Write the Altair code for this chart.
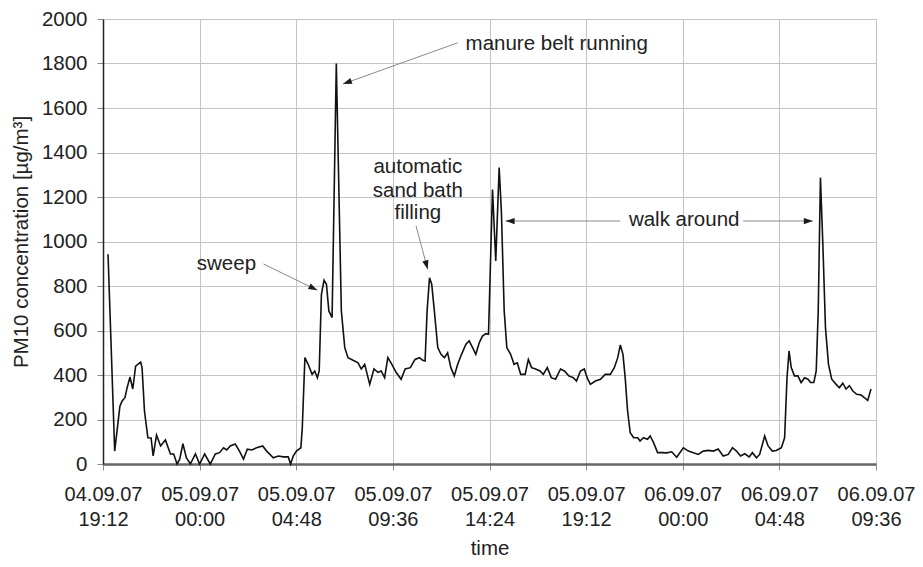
import json
import altair as alt
import pandas as pd

# --- measured series: hours since 04.09.07 19:12, PM10 in µg/m³ ---
hours = [0.25, 0.58, 0.84, 0.95, 1.09, 1.20, 1.34, 1.48, 1.62, 1.87,
         1.94, 2.06, 2.23, 2.39, 2.49, 2.66, 2.86, 3.10, 3.35, 3.51,
         3.68, 3.81, 3.97, 4.14, 4.34, 4.59, 4.80, 5.05, 5.33, 5.58,
         5.79, 5.99, 6.15, 6.32, 6.57, 6.78, 6.98, 7.17, 7.39, 7.63,
         7.93, 8.13, 8.46, 8.71, 8.96, 9.20, 9.32, 9.45, 9.61, 9.83,
         9.90, 10.03, 10.19, 10.39, 10.52, 10.65, 10.74, 10.85, 10.98, 11.10,
         11.22, 11.38, 11.59, 11.84, 12.01, 12.17, 12.42, 12.67, 12.83, 13.00,
         13.25, 13.46, 13.66, 13.82, 13.99, 14.15, 14.35, 14.56, 14.81, 15.01,
         15.27, 15.50, 15.72, 15.88, 16.00, 16.10, 16.22, 16.33, 16.46, 16.63,
         16.79, 16.96, 17.12, 17.28, 17.45, 17.62, 17.81, 18.03, 18.19, 18.36,
         18.52, 18.69, 18.85, 19.02, 19.15, 19.35, 19.51, 19.68, 19.79, 19.93,
         20.06, 20.25, 20.42, 20.58, 20.75, 20.97, 21.13, 21.29, 21.49, 21.71,
         21.87, 22.07, 22.27, 22.48, 22.73, 22.92, 23.14, 23.36, 23.52, 23.72,
         23.91, 24.05, 24.21, 24.46, 24.71, 24.95, 25.20, 25.40, 25.57, 25.70,
         25.83, 25.94, 26.06, 26.19, 26.36, 26.56, 26.68, 26.85, 27.05, 27.18,
         27.35, 27.55, 27.76, 28.01, 28.25, 28.50, 28.83, 29.08, 29.33, 29.57,
         29.82, 30.07, 30.32, 30.56, 30.81, 31.06, 31.27, 31.47, 31.67, 31.88,
         32.10, 32.26, 32.46, 32.62, 32.87, 33.04, 33.25, 33.45, 33.70, 33.86,
         33.98, 34.08, 34.19, 34.35, 34.52, 34.68, 34.85, 35.02, 35.15, 35.31,
         35.43, 35.53, 35.64, 35.76, 35.89, 36.04, 36.20, 36.42, 36.58, 36.75,
         36.91, 37.08, 37.25, 37.44, 37.66, 37.82, 37.99, 38.15]
pm10 = [943, 58, 260, 283, 298, 343, 391, 337, 440, 458,
        433, 238, 118, 117, 36, 130, 81, 108, 45, 45,
        0, 22, 91, 28, 0, 45, 0, 45, 0, 45,
        51, 73, 63, 81, 90, 58, 22, 67, 63, 73,
        81, 58, 28, 36, 32, 32, 0, 36, 58, 73,
        163, 478, 448, 403, 418, 388, 418, 763, 826, 808,
        688, 658, 1800, 688, 523, 478, 466, 455, 427, 448,
        358, 427, 412, 418, 388, 478, 448, 412, 381, 427,
        433, 470, 478, 466, 463, 688, 837, 808, 688, 523,
        493, 478, 500, 433, 396, 448, 493, 538, 553, 523,
        493, 545, 575, 586, 583, 1234, 912, 1332, 1137, 688,
        523, 493, 448, 455, 403, 403, 470, 433, 427, 418,
        403, 433, 388, 381, 427, 418, 396, 388, 373, 418,
        427, 388, 358, 373, 381, 403, 403, 433, 478, 535,
        493, 388, 238, 141, 118, 118, 103, 118, 111, 126,
        96, 51, 51, 50, 55, 30, 73, 58, 51, 43,
        58, 61, 58, 67, 36, 43, 73, 58, 36, 46,
        32, 51, 28, 43, 126, 81, 58, 61, 73, 118,
        388, 508, 433, 396, 396, 366, 388, 381, 366, 366,
        418, 688, 1287, 987, 613, 448, 381, 358, 343, 363,
        337, 352, 328, 313, 310, 298, 286, 337]

# --- axes ---
tick_hours = [0, 4.8, 9.6, 14.4, 19.2, 24.0, 28.8, 33.6, 38.4]
tick_labels = ["04.09.07 19:12", "05.09.07 00:00", "05.09.07 04:48",
               "05.09.07 09:36", "05.09.07 14:24", "05.09.07 19:12",
               "06.09.07 00:00", "06.09.07 04:48", "06.09.07 09:36"]
y_ticks = [0, 200, 400, 600, 800, 1000, 1200, 1400, 1600, 1800, 2000]

# --- annotations (data units) ---
ann_text = ["manure belt running", "automatic", "sand bath", "filling",
            "sweep", "walk around"]
ann_h = [22.54, 15.64, 15.64, 15.64, 6.13, 28.87]
ann_v = [1859, 1306, 1202, 1099, 870, 1070]

arrow_h = [17.62, 15.55, 7.97, 25.70, 31.80]      # tails
arrow_v = [1893, 1070, 899, 1092, 1092]
arrow_h2 = [11.92, 16.13, 10.65, 20.00, 35.26]    # tips
arrow_v2 = [1708, 875, 781, 1092, 1092]
arrow_angle = [250, 165, 116, 270, 90]

FONT = "Liberation Sans"
FS = 20.5
TXT = "#222222"

df = pd.DataFrame({"h": hours, "v": pm10})
ann = pd.DataFrame({"h": ann_h, "v": ann_v, "t": ann_text})
arr = pd.DataFrame({"h": arrow_h, "v": arrow_v, "h2": arrow_h2, "v2": arrow_v2,
                    "a": arrow_angle})

xscale = alt.Scale(domain=[0, 38.4], nice=False, zero=False)
yscale = alt.Scale(domain=[0, 2000], nice=False)

label_expr = "split(" + json.dumps(tick_labels) + "[round(datum.value / 4.8)], ' ')"

line = alt.Chart(df).mark_line(color="#111111", strokeWidth=1.6).encode(
    x=alt.X("h:Q", scale=xscale, title="time",
            axis=alt.Axis(values=tick_hours, labelExpr=label_expr,
                          labelFont=FONT, labelFontSize=20, labelColor=TXT,
                          labelLineHeight=25, labelPadding=14,
                          labelBaseline="top",
                          titleFont=FONT, titleFontSize=FS, titleColor=TXT,
                          titleFontWeight="normal", titlePadding=9,
                          tickSize=6, tickColor="#888888",
                          domainColor="#666666", domainWidth=2.5,
                          gridColor="#c4c4c4", gridWidth=1,
                          labelOverlap=False, labelFlush=False)),
    y=alt.Y("v:Q", scale=yscale,
            title="PM10 concentration [µg/m³]",
            axis=alt.Axis(values=y_ticks, format="d", labelFont=FONT,
                          labelFontSize=FS, labelColor=TXT, labelPadding=10,
                          titleFont=FONT, titleFontSize=FS, titleColor=TXT,
                          titleFontWeight="normal", titlePadding=10,
                          tickSize=6, tickColor="#888888",
                          domainColor="#222222", domainWidth=1.5,
                          gridColor="#c4c4c4", gridWidth=1)),
)

arrow_lines = alt.Chart(arr).mark_rule(color="#8a8a8a", strokeWidth=1).encode(
    x=alt.X("h:Q", scale=xscale), y=alt.Y("v:Q", scale=yscale),
    x2="h2:Q", y2="v2:Q")

arrow_heads = alt.Chart(arr).mark_point(
    shape="M0,0L0.7,2L-0.7,2Z", size=81, filled=True, fill="#1a1a1a",
    strokeWidth=0, opacity=1).encode(
    x=alt.X("h2:Q", scale=xscale), y=alt.Y("v2:Q", scale=yscale),
    angle=alt.Angle("a:Q", scale=None))

labels = alt.Chart(ann).mark_text(font=FONT, fontSize=FS, color=TXT,
                                  align="center", baseline="alphabetic").encode(
    x=alt.X("h:Q", scale=xscale), y=alt.Y("v:Q", scale=yscale), text="t:N")

chart = alt.layer(line, arrow_lines, arrow_heads, labels).properties(
    width=773, height=445,
    padding={"left": 95, "top": 11, "right": 39, "bottom": 94},
    autosize=alt.AutoSizeParams(type="none"),
).configure_view(stroke="#222222", strokeWidth=1.5).configure(
    background="white")

chart.save("out.html", embed_options={"renderer": "svg", "actions": False})
